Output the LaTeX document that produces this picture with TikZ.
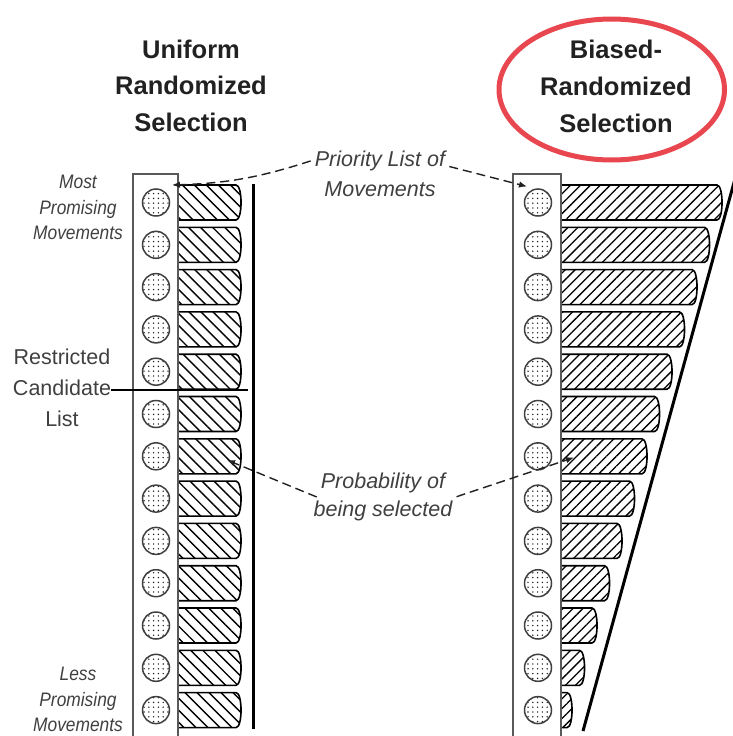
\documentclass[tikz,border=0pt]{standalone}
\usepackage{fontspec}
\setmainfont{Liberation Sans}
\newfontfamily\condsans[FakeStretch=0.89]{Liberation Sans}
\usetikzlibrary{patterns.meta,arrows.meta}

\definecolor{ink}{gray}{0.13}
\definecolor{soft}{gray}{0.25}
\definecolor{frame}{gray}{0.35}
\definecolor{ringred}{RGB}{233,71,80}

\tikzset{
  x=1pt, y=-1pt,
  titletext/.style={font=\fontsize{25.5}{36.7}\selectfont\bfseries, text=ink, align=center, inner sep=0pt},
  sidetext/.style={font=\fontsize{19.5}{25.5}\selectfont\condsans\itshape, text=soft, align=center, inner sep=0pt},
  rcltext/.style={font=\fontsize{21.5}{31}\selectfont, text=soft, align=center, inner sep=0pt},
  notetext/.style={font=\fontsize{21.5}{26}\selectfont\itshape, text=soft, inner sep=4pt, anchor=base},
  listbox/.style={draw=frame, line width=1.5pt},
  movedot/.style={circle, draw=soft, line width=1.5pt, minimum size=27pt, inner sep=0pt,
                  pattern={Dots[radius=0.8pt, distance=4.8pt]}, pattern color=ink},
  barshape/.style={draw=black, line width=1.6pt},
  uniformhatch/.style={pattern={Lines[angle=-45, distance=8.5pt, line width=1.4pt]}},
  biasedhatch/.style={pattern={Lines[angle=45, distance=7pt, line width=1.3pt]}},
  thickrule/.style={line width=3pt, black},
  notearrow/.style={draw=ink, line width=1.4pt, dash pattern=on 9pt off 5pt,
                    -{Latex[length=8pt, width=6.5pt]}},
}

\begin{document}
\begin{tikzpicture}
\useasboundingbox (0,0) rectangle (733,736);

% ---- titles ----
\node[titletext] (ttlU) at (191,85.7) {Uniform\\Randomized\\Selection};
\node[titletext] (ttlB) at (616,86.5) {Biased-\\Randomized\\Selection};
\draw[ringred, line width=5pt] (611.75,89.5) ellipse [x radius=112.75, y radius=70.5];

% ---- uniform column: equal bars ----
\foreach \i in {0,...,12}{
  \pgfmathsetmacro\yc{202.5+42.3*\i}
  \pgfmathsetmacro\yt{\yc-17.5}
  \pgfmathsetmacro\yb{\yc+17.5}
  \draw[barshape, uniformhatch] (178,\yt) -- (236,\yt)
      .. controls (242.7,\yt) and (242.7,\yb) .. (236,\yb) -- (178,\yb) -- cycle;
}
\draw[listbox] (133,174) rectangle (178,740);
\foreach \i in {0,...,12}{
  \pgfmathsetmacro\yc{202.5+42.3*\i}
  \node[movedot] (Lc\i) at (156,\yc) {};
}
\draw[thickrule] (253,184) -- (253,729);

% ---- biased column: decreasing bars ----
\foreach \i in {0,...,12}{
  \pgfmathsetmacro\yc{202.5+42.3*\i}
  \pgfmathsetmacro\yt{\yc-17.5}
  \pgfmathsetmacro\yb{\yc+17.5}
  \pgfmathsetmacro\xe{717-12.5*\i}
  \pgfmathsetmacro\xc{\xe+6.7}
  \draw[barshape, biasedhatch] (561,\yt) -- (\xe,\yt)
      .. controls (\xc,\yt) and (\xc,\yb) .. (\xe,\yb) -- (561,\yb) -- cycle;
}
\draw[listbox] (513,174) rectangle (561,740);
\foreach \i in {0,...,12}{
  \pgfmathsetmacro\yc{202.5+42.3*\i}
  \node[movedot] (Rc\i) at (538,\yc) {};
}
\draw[thickrule] (738,168) -- (583,731);

% ---- side labels ----
\node[sidetext] (most) at (78,207.5) {Most\\Promising\\Movements};
\node[sidetext] (less) at (78,699.5) {Less\\Promising\\Movements};
\node[rcltext] (rcl) at (62,388) {Restricted\\Candidate\\List};
\coordinate (rclend) at (248,390);
\draw[line width=2pt, black] (rcl.east |- rclend) -- (rclend);

% ---- annotations ----
\node[notetext] (pri1) at (380,166.5) {Priority List of};
\node[notetext] (pri2) at (380,196.7) {Movements};
\node[notetext] (prob1) at (383,488.3) {Probability of};
\node[notetext] (prob2) at (383,516.5) {being selected};

\coordinate (priL) at (172,185);
\coordinate (priR) at (527,186.5);
\coordinate (probL) at (227,460);
\coordinate (probR) at (574,457.5);

\draw[notearrow] (pri1.west) to[bend left=8] (priL);
\draw[notearrow] (pri1.base east) -- (priR);
\draw[notearrow] (prob1.south west) -- (probL);
\draw[notearrow] (prob2.north east) -- (probR);
\end{tikzpicture}
\end{document}
